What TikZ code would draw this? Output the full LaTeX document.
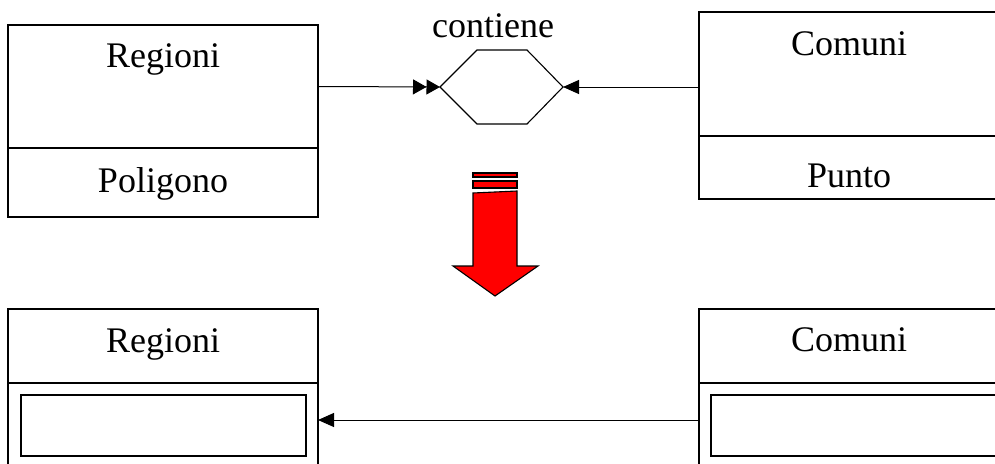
\documentclass[tikz,border=0pt]{standalone}
\usepackage{fontspec}
\setmainfont{Liberation Serif}
\usetikzlibrary{arrows.meta,calc}
\begin{document}
\begin{tikzpicture}[x=1pt,y=-1pt,
  every node/.style={inner sep=0pt,outer sep=0pt},
  box/.style={draw,line width=1.1pt,anchor=north west,rectangle},
  lbl/.style={anchor=base,font=\fontsize{36}{40}\selectfont},
  link/.style={line width=1pt},
  dbltip/.style={-{Triangle[length=13.5pt,width=15pt]Triangle[length=13.5pt,width=15pt]}},
  sgltip/.style={-{Triangle[length=16pt,width=14pt]}},
  redarrow/.style={draw,fill=red,line width=1.1pt,line join=miter}]
\useasboundingbox (0,0) rectangle (995,463);
\clip (0,0) rectangle (995,463);

% upper classes
\node[box,minimum width=310pt,minimum height=123pt] (R1a) at (8,25) {};
\node[box,minimum width=310pt,minimum height=69pt] (R1b) at (8,148) {};
\node[lbl] (R1name) at (163,67) {Regioni};
\node[lbl] (R1geo) at (163,192) {Poligono};

\node[box,minimum width=320pt,minimum height=124pt] (C1a) at (699,12) {};
\node[box,minimum width=320pt,minimum height=63pt] (C1b) at (699,136) {};
\node[lbl] (C1name) at (849,55) {Comuni};
\node[lbl] (C1geo) at (849,187) {Punto};

% spatial relationship
\coordinate (hexW) at (440,87);
\coordinate (hexE) at (563,87);
\draw[line width=1.1pt,line join=miter] (hexW) -- (477,50) -- (527,50) -- (hexE) -- (527,124) -- (477,124) -- cycle;
\node[lbl] (rel) at (493,37) {contiene};
\draw[link,dbltip] (R1a.east) -- (hexW);
\coordinate (C1join) at (C1a.west |- hexE);
\draw[link,sgltip] (C1join) -- (hexE);

% transformation arrow
\path[redarrow] (473,173) rectangle (517,177);
\path[redarrow] (473,181) rectangle (517,188);
\path[redarrow] (473,193) -- (517,191) -- (517,266) -- (538,266) -- (495,296)
  -- (453,266) -- (473,266) -- cycle;

% lower classes
\node[box,minimum width=310pt,minimum height=74pt] (R2a) at (8,309) {};
\node[box,minimum width=310pt,minimum height=100pt] (R2b) at (8,383) {};
\node[box,minimum width=285pt,minimum height=61pt] (R2c) at (21,395) {};
\node[lbl] (R2name) at (163,352) {Regioni};

\node[box,minimum width=320pt,minimum height=74pt] (C2a) at (699,309) {};
\node[box,minimum width=320pt,minimum height=100pt] (C2b) at (699,383) {};
\node[box,minimum width=300pt,minimum height=61pt] (C2c) at (711,395) {};
\node[lbl] (C2name) at (849,351) {Comuni};

\coordinate (C2join) at (C2b.west |- 0,420);
\coordinate (R2tip) at (R2b.east |- C2join);
\draw[link,sgltip] (C2join) -- (R2tip);
\end{tikzpicture}
\end{document}
